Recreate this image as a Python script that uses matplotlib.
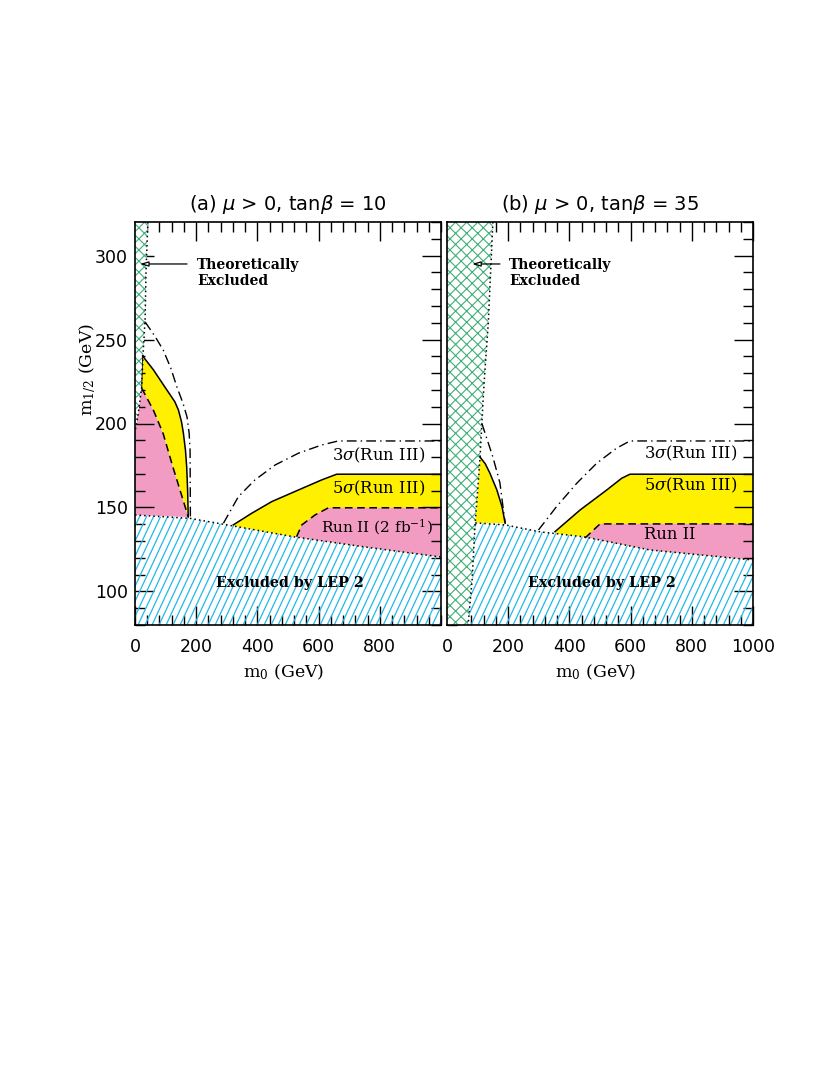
"""mSUGRA reach plane: two panels (tan beta = 10, 35), m0 vs m1/2."""
import matplotlib
matplotlib.use("Agg")
import matplotlib.pyplot as plt
import numpy as np
from matplotlib.collections import LineCollection
from matplotlib.patches import Polygon
from matplotlib.ticker import MultipleLocator

YEL, PINK, BLUE, GREEN = "#fff000", "#f29bc3", "#22b8ea", "#3fae78"
SERIF = "DejaVu Serif"

# ---- panel (a): mu > 0, tan beta = 10 ----
A_THEO_X = [42, 36, 33, 26, 22, 10, 0]
A_THEO_Y = [320, 290, 262, 240, 222, 205, 195]
A_LEP_X = [0, 180, 320, 520, 750, 1000]
A_LEP_Y = [145.5, 143.5, 139, 132.5, 126.5, 120.5]
# left lobe
A_LOBE3_X = [33, 65, 92, 117, 137, 157, 170, 177, 180, 181]
A_LOBE3_Y = [260.5, 252, 243.8, 233, 221.7, 212, 203.9, 194, 184, 144]
A_LOBE5_X = [25, 60, 104, 130, 142, 152, 158, 165, 169, 172, 174]
A_LOBE5_Y = [240.2, 232, 220, 213, 208, 201, 194.4, 184, 174, 160, 144.3]
A_LOBE2_X = [22, 60, 92, 124, 157, 174]
A_LOBE2_Y = [221, 208, 194, 174, 154.5, 144.3]
# right branch
A_3S_X = [289, 338, 392, 458, 534, 610, 664, 1000]
A_3S_Y = [140.6, 156.5, 166.4, 175.3, 182.3, 187.2, 189.6, 189.6]
A_5S_X = [321, 381, 447, 534, 610, 659, 1000]
A_5S_Y = [139.6, 146.5, 153.5, 160.4, 166.4, 169.8, 169.8]
A_R2_X = [528, 545, 588, 632, 1000]
A_R2_Y = [132.6, 139.6, 145.5, 149.8, 149.8]

# ---- panel (b): mu > 0, tan beta = 35 ----
B_THEO_X = [150, 135, 122, 118, 114, 108, 98, 92, 82, 69]
B_THEO_Y = [320, 260, 226, 214, 200, 180, 154.5, 140.8, 106.8, 80]
B_LEP_X = [92, 190, 304, 451, 663, 1000]
B_LEP_Y = [140.8, 139.6, 135.5, 132.4, 124.7, 118.7]
B_LOBE3_X = [114, 150, 173, 183, 190]
B_LOBE3_Y = [200, 180, 164.6, 150.3, 141]
B_LOBE5_X = [108, 125, 140, 163, 180, 190]
B_LOBE5_Y = [180, 176, 170.5, 160.4, 150.3, 140.6]
B_3S_X = [299, 358, 424, 489, 554, 598, 1000]
B_3S_Y = [136.6, 150.5, 164.4, 176.3, 185.3, 189.6, 189.6]
B_5S_X = [353, 435, 522, 571, 598, 1000]
B_5S_Y = [135.6, 148.5, 160.4, 167.4, 169.8, 169.8]
B_R2_X = [451, 500, 1000]
B_R2_Y = [131.8, 140.2, 140.2]

XMIN, XMAX, YMIN, YMAX = 0, 1000, 80, 320


def lep_y(lx, ly, x):
    return np.interp(x, lx, ly)


def region(xs_top, ys_top, lx, ly):
    """polygon between a curve (left->right) and the LEP line below it."""
    xb = np.linspace(xs_top[-1], xs_top[0], 30)
    return (list(xs_top) + list(xb), list(ys_top) + list(lep_y(lx, ly, xb)))


def blue_hatch(ax, xs, ys):
    patch = Polygon(np.column_stack([xs, ys]), closed=True, fc="none", ec="none")
    ax.add_patch(patch)
    k = np.tan(np.radians(65)) * (240 / 403) / (1000 / 306)
    segs = [[(x0, YMIN), (x0 + (YMAX - YMIN) / k, YMAX)]
            for x0 in np.arange(-700, 1000, 22.9)]
    lc = LineCollection(segs, colors=BLUE, linewidths=0.9, zorder=2)
    ax.add_collection(lc)
    lc.set_clip_path(patch)


def panel(ax, d, title, xlabels):
    # 5 sigma (Run III) yellow, then Run II pink over it
    ax.fill(*region(d["5s_x"], d["5s_y"], d["lep_x"], d["lep_y"]), color=YEL, lw=0, zorder=1)
    ax.fill(*region(d["r2_x"], d["r2_y"], d["lep_x"], d["lep_y"]), color=PINK, lw=0, zorder=1.1)
    ax.plot(d["3s_x"], d["3s_y"], color="k", lw=1.0, dashes=(7, 3, 1, 3), zorder=4)
    ax.plot(d["5s_x"], d["5s_y"], color="k", lw=1.1, zorder=4)
    ax.plot(d["r2_x"], d["r2_y"], color="k", lw=1.1, dashes=(5, 3), zorder=4)
    # low-m0 lobe
    ax.plot(d["lobe3_x"], d["lobe3_y"], color="k", lw=1.0, dashes=(7, 3, 1, 3), zorder=4)
    ax.plot(d["lobe5_x"], d["lobe5_y"], color="k", lw=1.1, zorder=4)
    # LEP 2 excluded
    lx, ly = d["lep_x"], d["lep_y"]
    blue_hatch(ax, list(d["lep_poly_x"]), list(d["lep_poly_y"]))
    ax.plot(lx, ly, color="k", lw=1.1, ls=(0, (1, 2)), zorder=4)
    # theoretically excluded
    tx, ty = d["theo_x"], d["theo_y"]
    ax.fill([0] + tx + [0], [ty[0]] + ty + [ty[-1]], fc="white", ec=GREEN,
            lw=0, hatch="xxx", zorder=3)
    ax.plot(tx, ty, color="k", lw=1.1, ls=(0, (1, 2)), zorder=4)

    ax.set_xlim(XMIN, XMAX)
    ax.set_ylim(YMIN, YMAX)
    ax.xaxis.set_major_locator(MultipleLocator(200))
    ax.xaxis.set_minor_locator(MultipleLocator(40))
    ax.yaxis.set_major_locator(MultipleLocator(50))
    ax.yaxis.set_minor_locator(MultipleLocator(10))
    ax.tick_params(which="both", direction="in", top=True, right=True, width=1.0)
    ax.tick_params(which="major", length=14, labelsize=12.5)
    ax.tick_params(which="minor", length=7)
    ax.tick_params(axis="x", pad=9)
    ax.tick_params(axis="y", pad=5)
    ax.set_xticks(xlabels)
    ax.set_xticklabels([str(v) for v in xlabels])
    for s in ax.spines.values():
        s.set_linewidth(1.2)
        s.set_zorder(6)
    ax.set_title(title, fontsize=14, pad=9)
    ax.text(0.484, -0.117, r"$\mathrm{m_0}$ (GeV)", transform=ax.transAxes,
            ha="center", va="center", fontsize=12.5, family=SERIF,
            math_fontfamily="dejavuserif")


plt.rcParams["hatch.linewidth"] = 0.8
fig = plt.figure(figsize=(8.3, 10.75), dpi=100)
W, H = 830, 1075
axa = fig.add_axes([135 / W, 1 - 625 / H, 306 / W, 403 / H])
axb = fig.add_axes([447 / W, 1 - 625 / H, 306 / W, 403 / H])

# (a) ----------------------------------------------------------------
pa = dict(theo_x=A_THEO_X, theo_y=A_THEO_Y, lep_x=A_LEP_X, lep_y=A_LEP_Y,
          lobe3_x=A_LOBE3_X, lobe3_y=A_LOBE3_Y, lobe5_x=A_LOBE5_X, lobe5_y=A_LOBE5_Y,
          **{"3s_x": A_3S_X, "3s_y": A_3S_Y, "5s_x": A_5S_X, "5s_y": A_5S_Y,
             "r2_x": A_R2_X, "r2_y": A_R2_Y},
          lep_poly_x=A_LEP_X + [1000, 0], lep_poly_y=A_LEP_Y + [YMIN, YMIN])
# left lobe fills: pink under dashed, yellow between dashed and solid
axa.fill([0, 0] + A_LOBE2_X + [0], [A_LEP_Y[0], A_LOBE2_Y[0]] + A_LOBE2_Y + [A_LEP_Y[0]],
         color=PINK, lw=0, zorder=1)
axa.fill(A_LOBE5_X + A_LOBE2_X[::-1], A_LOBE5_Y + A_LOBE2_Y[::-1], color=YEL, lw=0, zorder=1)
axa.plot(A_LOBE2_X, A_LOBE2_Y, color="k", lw=1.1, dashes=(5, 3), zorder=4)
axa.plot([A_LOBE2_X[0], A_LOBE5_X[0]], [A_LOBE2_Y[0], A_LOBE5_Y[0]], color="k", lw=0.6, zorder=4)
panel(axa, pa, r"(a) $\mu$ > 0, tan$\beta$ = 10", [0, 200, 400, 600, 800])
axa.text(-0.154, 0.633, r"$\mathrm{m_{1/2}}$ (GeV)", transform=axa.transAxes, rotation=90,
         ha="center", va="center", fontsize=12.5, family=SERIF, math_fontfamily="dejavuserif")
axa.text(948, 181, r"3$\sigma$(Run III)", ha="right", va="center", fontsize=11.8, family=SERIF,
         math_fontfamily="dejavuserif", zorder=5)
axa.text(948, 161.6, r"5$\sigma$(Run III)", ha="right", va="center", fontsize=11.8, family=SERIF,
         math_fontfamily="dejavuserif", zorder=5)
axa.text(791, 138, r"Run II (2 fb$^{-1}$)", ha="center", va="center", fontsize=11, family=SERIF,
         math_fontfamily="dejavuserif", zorder=5)

# (b) ----------------------------------------------------------------
low = [i for i, y in enumerate(B_THEO_Y) if y <= B_LEP_Y[0]]
pb = dict(theo_x=B_THEO_X, theo_y=B_THEO_Y, lep_x=B_LEP_X, lep_y=B_LEP_Y,
          lobe3_x=B_LOBE3_X, lobe3_y=B_LOBE3_Y, lobe5_x=B_LOBE5_X, lobe5_y=B_LOBE5_Y,
          **{"3s_x": B_3S_X, "3s_y": B_3S_Y, "5s_x": B_5S_X, "5s_y": B_5S_Y,
             "r2_x": B_R2_X, "r2_y": B_R2_Y},
          lep_poly_x=[B_THEO_X[i] for i in low[::-1]] + B_LEP_X + [1000],
          lep_poly_y=[B_THEO_Y[i] for i in low[::-1]] + B_LEP_Y + [YMIN])
# lobe: yellow between theory boundary, solid line and LEP line
sel = [i for i, y in enumerate(B_THEO_Y) if B_LEP_Y[0] <= y <= B_LOBE5_Y[0]]
axb.fill(B_LOBE5_X + [B_THEO_X[i] for i in sel[::-1]],
         B_LOBE5_Y + [B_THEO_Y[i] for i in sel[::-1]], color=YEL, lw=0, zorder=1)
panel(axb, pb, r"(b) $\mu$ > 0, tan$\beta$ = 35", [0, 200, 400, 600, 800, 1000])
axb.set_yticklabels([])
axb.text(947, 182, r"3$\sigma$(Run III)", ha="right", va="center", fontsize=11.8, family=SERIF,
         math_fontfamily="dejavuserif", zorder=5)
axb.text(947, 163, r"5$\sigma$(Run III)", ha="right", va="center", fontsize=11.8, family=SERIF,
         math_fontfamily="dejavuserif", zorder=5)
axb.text(729, 133.6, "Run II", ha="center", va="center", fontsize=11.8, family=SERIF, zorder=5)

for ax, x_text, x_tail, x_head in [(axa, 202, 170, 16), (axb, 203, 173, 82)]:
    ax.text(x_text, 289.5, "Theoretically\nExcluded", ha="left", va="center",
            fontsize=10, fontweight="bold", family=SERIF, linespacing=1.2, zorder=5)
    ax.annotate("", xy=(x_head, 295), xytext=(x_tail, 295), zorder=5,
                arrowprops=dict(arrowstyle="-|>,head_length=0.5,head_width=0.15",
                                fc="white", ec="k", lw=0.9, shrinkA=0, shrinkB=0))
    ax.text(507, 105, "Excluded by LEP 2", ha="center", va="center", fontsize=10.3,
            fontweight="bold", family=SERIF, zorder=5)

fig.savefig("out.png", dpi=100)
